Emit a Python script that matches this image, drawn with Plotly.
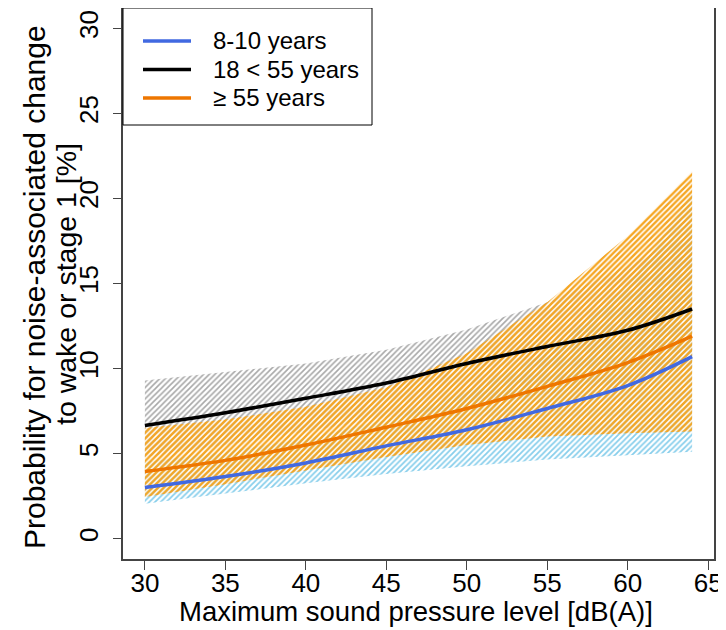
import plotly.graph_objects as go

# x positions (Maximum sound pressure level, dB(A))
x_vals = [30, 35, 40, 45, 50, 55, 60, 64]

# fitted probabilities [%]
child_mean = [3.0, 3.65, 4.45, 5.45, 6.4, 7.65, 9.0, 10.7]
adult_mean = [6.65, 7.4, 8.25, 9.15, 10.3, 11.3, 12.25, 13.5]
elder_mean = [3.95, 4.6, 5.5, 6.55, 7.65, 8.95, 10.35, 11.9]

# confidence bands
child_lo = [2.05, 2.65, 3.25, 3.8, 4.25, 4.65, 4.9, 5.1]
child_hi = [4.5, 5.1, 5.9, 7.0, 8.6, 11.0, 14.8, 20.3]
adult_lo = [4.8, 5.5, 6.3, 7.1, 7.8, 8.5, 9.2, 10.0]
adult_hi = [9.3, 9.8, 10.3, 11.1, 12.3, 13.9, 16.0, 18.0]
elder_lo = [2.45, 3.2, 4.0, 4.8, 5.5, 6.0, 6.2, 6.3]
elder_hi = [6.5, 7.0, 7.75, 8.9, 10.9, 13.9, 17.8, 21.6]

x_ticks = [30, 35, 40, 45, 50, 55, 60, 65]
y_ticks = [0, 5, 10, 15, 20, 25, 30]

labels = ["8-10 years", "18 < 55 years", "\u2265 55 years"]
line_colors = ["#4169E1", "#000000", "#EE7600"]
band_colors = ["#87CEEB", "#A8A8A8", "#F5A623"]

FONT = "Liberation Sans, Arial, sans-serif"

fig = go.Figure()

def band(lo, hi, color, size, solidity):
    xs = x_vals + x_vals[::-1]
    ys = hi + lo[::-1]
    fig.add_trace(go.Scatter(
        x=xs, y=ys, mode="none", fill="toself",
        fillcolor="rgba(0,0,0,0)",
        fillpattern=dict(shape="/", fgcolor=color, bgcolor="rgba(255,255,255,0)",
                         size=size, solidity=solidity, fillmode="replace"),
        hoverinfo="skip", showlegend=False))

band(adult_lo, adult_hi, band_colors[1], 4, 0.4)
band(child_lo, child_hi, band_colors[0], 4, 0.45)
band(elder_lo, elder_hi, band_colors[2], 4, 0.6)

for ys, name, col in zip([child_mean, adult_mean, elder_mean], labels, line_colors):
    fig.add_trace(go.Scatter(x=x_vals, y=ys, mode="lines", name=name, showlegend=False,
                             line=dict(color=col, width=3.5, shape="spline")))

# the page places the figure 8px from the window's top-left corner
OFF = 8
W, H = 718, 622
L, R, T, B = 115, 12, 0, 71
pw, ph = W - L - R, H - T - B

def px(page_x):
    return (page_x - OFF - L) / pw

def py(page_y):
    return 1 - (page_y - OFF - T) / ph

# manual legend (box, line samples, labels)
shapes = [dict(type="rect", xref="paper", yref="paper",
               x0=0, x1=px(372), y0=py(125), y1=1,
               line=dict(color="black", width=1), fillcolor="white", layer="above")]
annotations = []
for i, (name, col) in enumerate(zip(labels, line_colors)):
    yc = 41 + i * 28.5
    shapes.append(dict(type="line", xref="paper", yref="paper",
                       x0=px(143), x1=px(191), y0=py(yc), y1=py(yc),
                       line=dict(color=col, width=3.5), layer="above"))
    annotations.append(dict(text=name, xref="paper", yref="paper", x=px(211), y=py(yc),
                            xanchor="left", yanchor="middle", showarrow=False,
                            font=dict(family=FONT, size=24, color="black")))

annotations += [
    dict(text="Probability for noise-associated change",
         xref="paper", yref="paper", x=px(34), y=py(287),
         xanchor="center", yanchor="middle", textangle=-90, showarrow=False,
         font=dict(family=FONT, size=30, color="black")),
    dict(text="to wake or stage 1 [%]",
         xref="paper", yref="paper", x=px(66), y=py(284),
         xanchor="center", yanchor="middle", textangle=-90, showarrow=False,
         font=dict(family=FONT, size=28.5, color="black")),
    dict(text="Maximum sound pressure level [dB(A)]",
         xref="paper", yref="paper", x=px(416), y=py(611),
         xanchor="center", yanchor="middle", showarrow=False,
         font=dict(family=FONT, size=27.5, color="black")),
]

fig.update_layout(
    width=W, height=H,
    margin=dict(l=L, r=R, t=T, b=B, pad=0, autoexpand=False),
    paper_bgcolor="white", plot_bgcolor="white",
    font=dict(family=FONT, size=26, color="black"),
    showlegend=False,
    shapes=shapes,
    annotations=annotations,
)

fig.update_xaxes(range=[28.64, 65.36], tickvals=x_ticks, ticktext=[str(v) for v in x_ticks],
                 showgrid=False, zeroline=False, showline=True, mirror=True, automargin=False,
                 linecolor="#444444", linewidth=1.5, ticks="outside", ticklen=9,
                 tickcolor="#444444", tickwidth=1, ticklabelstandoff=-9,
                 tickfont=dict(size=26, family=FONT))
fig.update_yaxes(range=[-1.2, 31.2], tickvals=y_ticks, ticktext=[str(v) for v in y_ticks],
                 showgrid=False, zeroline=False, showline=True, mirror=True, automargin=False,
                 linecolor="#444444", linewidth=1.5, ticks="outside", ticklen=8,
                 tickcolor="#444444", tickwidth=1, tickangle=-90, ticklabelstandoff=5,
                 tickfont=dict(size=26, family=FONT))

fig.write_html("out.html")
